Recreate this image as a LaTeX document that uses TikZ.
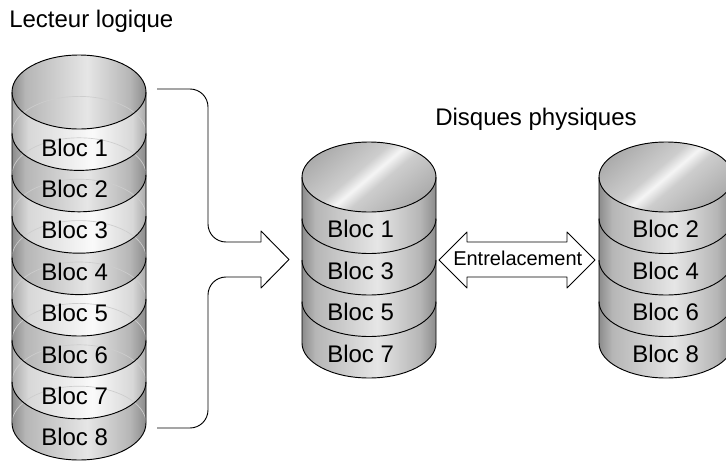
\documentclass[tikz,border=0pt]{standalone}
\usepackage{fontspec}
\setmainfont{Liberation Sans}
\usetikzlibrary{arrows.meta,positioning,calc}
\definecolor{RdFaint}{RGB}{205,205,205}
\definecolor{RdGrayA}{RGB}{140,140,140}
\definecolor{RdGrayB}{RGB}{182,182,182}
\definecolor{RdGrayC}{RGB}{230,230,230}
\definecolor{RdPaleA}{RGB}{170,170,170}
\definecolor{RdPaleB}{RGB}{215,215,215}
\definecolor{RdPaleC}{RGB}{250,250,250}
\definecolor{RdTopD}{RGB}{172,172,172}
\definecolor{RdTopM}{RGB}{205,205,205}
\definecolor{RdTopW}{RGB}{245,245,245}
\pgfdeclarehorizontalshading{rdbody}{100bp}{color(0bp)=(RdGrayA); color(25bp)=(RdGrayA);
  color(30bp)=(RdGrayB); color(53bp)=(RdGrayC); color(69bp)=(RdGrayB); color(75bp)=(RdGrayA);
  color(100bp)=(RdGrayA)}
\pgfdeclarehorizontalshading{rdpale}{100bp}{color(0bp)=(RdPaleA); color(25bp)=(RdPaleA);
  color(31bp)=(RdPaleB); color(55bp)=(RdPaleC); color(70bp)=(RdPaleB); color(75bp)=(RdPaleA);
  color(100bp)=(RdPaleA)}
\pgfdeclarehorizontalshading{rdtop}{100bp}{color(0bp)=(RdTopD); color(25bp)=(RdTopD);
  color(44bp)=(RdTopM); color(50bp)=(RdTopW); color(56bp)=(RdTopM); color(75bp)=(RdTopD);
  color(100bp)=(RdTopD)}
\tikzset{
  rd/label/.style={font=\fontsize{18}{20}\selectfont, anchor=base west, inner sep=0pt},
  rd/small/.style={font=\fontsize{15}{17}\selectfont, anchor=base west, inner sep=0pt},
  rd/outline/.style={draw=black, line width=0.7pt, line join=round},
  rd/faint/.style={draw=RdFaint, line width=0.5pt},
  rd/face/.style={shading=rdtop, shading angle=-50}
}

\begin{document}
\begin{tikzpicture}[x=0.75pt,y=-0.75pt]
  \clip (0,0) rectangle (726,461);

  % logical drive, eight blocks
  \fill[shading=rdbody] (79,92) ellipse [x radius=67, y radius=37];
  \foreach \i [evaluate=\i as \ya using 92+41.4*(\i-1), evaluate=\i as \yb using 92+41.4*\i] in {1,3,5,7}
    \path[shading=rdpale] (12,\ya) arc[start angle=180, end angle=0, x radius=67, y radius=37]
      -- (146,\yb) arc[start angle=0, end angle=180, x radius=67, y radius=37] -- cycle;
  \foreach \i [evaluate=\i as \ya using 92+41.4*(\i-1), evaluate=\i as \yb using 92+41.4*\i] in {2,4,6,8}
    \path[shading=rdbody] (12,\ya) arc[start angle=180, end angle=0, x radius=67, y radius=37]
      -- (146,\yb) arc[start angle=0, end angle=180, x radius=67, y radius=37] -- cycle;
  \foreach \i [evaluate=\i as \ya using 92+41.4*\i] in {1,...,8}
    \draw[rd/faint] (12,\ya) arc[start angle=180, end angle=360, x radius=67, y radius=37];
  \foreach \i [evaluate=\i as \ya using 92+41.4*\i] in {1,...,7}
    \draw[rd/outline] (12,\ya) arc[start angle=180, end angle=0, x radius=67, y radius=37];
  \draw[rd/outline] (79,92) ellipse [x radius=67, y radius=37];
  \draw[rd/outline] (12,92) -- (12,423) arc[start angle=180, end angle=0, x radius=67, y radius=37] -- (146,92);
  \foreach \i [evaluate=\i as \yt using 156+41.4*(\i-1)] in {1,...,8}
    \node[rd/label] (lg\i) at (41,\yt) {Bloc \i};
  \node[rd/label] (lgtitle) at (9,27) {Lecteur logique};

  % bracket arrow
  \draw[rd/outline, rounded corners=13.5pt] (157,89) -| (208,242) -- (261,242);
  \draw[rd/outline, rounded corners=13.5pt] (157,428) -| (208,277) -- (261,277);
  \draw[rd/outline] (261,242) -- (261,231) -- (289,259.5) -- (261,288) -- (261,277);

  % physical disks
  \foreach \cx/\side in {369/a, 666/b} {
    \fill[rd/face] (\cx,177) ellipse [x radius=67, y radius=35];
    \foreach \k [evaluate=\k as \ya using 177+41.5*\k, evaluate=\k as \yb using 177+41.5*(\k+1)] in {0,...,3}
      \path[shading=rdbody] ({\cx-67},\ya) arc[start angle=180, end angle=0, x radius=67, y radius=35]
        -- ({\cx+67},\yb) arc[start angle=0, end angle=180, x radius=67, y radius=35] -- cycle;
    \foreach \k [evaluate=\k as \ya using 177+41.5*\k] in {1,2,3}
      \draw[rd/outline] ({\cx-67},\ya) arc[start angle=180, end angle=0, x radius=67, y radius=35];
    \draw[rd/outline] (\cx,177) ellipse [x radius=67, y radius=35];
    \draw[rd/outline] ({\cx-67},177) -- ({\cx-67},343) arc[start angle=180, end angle=0, x radius=67, y radius=35]
      -- ({\cx+67},177);
  }
  \foreach \k/\b [evaluate=\k as \yt using 237.5+41.5*\k] in {0/1,1/3,2/5,3/7}
    \node[rd/label] (pa\b) at (327,\yt) {Bloc \b};
  \foreach \k/\b [evaluate=\k as \yt using 237.5+41.5*\k] in {0/2,1/4,2/6,3/8}
    \node[rd/label] (pb\b) at (632,\yt) {Bloc \b};
  \node[rd/label] (phtitle) at (435,125) {Disques physiques};

  % interleave arrow
  \draw[rd/outline] (439,260) -- (467,232) -- (467,242) -- (567,242) -- (567,232) -- (595,260)
    -- (567,288) -- (567,277) -- (467,277) -- (467,288) -- cycle;
  \node[rd/small] (ilv) at (453,265.7) {Entrelacement};
\end{tikzpicture}
\end{document}
